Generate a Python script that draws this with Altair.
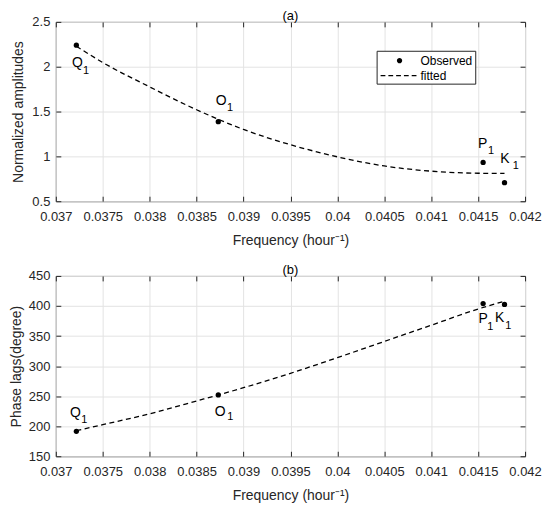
import altair as alt
import pandas as pd

# ---------------- data ----------------
names = ["Q", "O", "P", "K"]
subs = ["1", "1", "1", "1"]
freq_obs = [0.037219, 0.038731, 0.041553, 0.041781]
amp_obs = [2.240, 1.387, 0.933, 0.707]
phase_obs = [191.4, 252.0, 404.0, 402.5]

freq_fit = [0.037219, 0.0375, 0.038, 0.0385, 0.039, 0.0395, 0.040, 0.0405, 0.041, 0.0415, 0.041781]
amp_fit = [2.228, 2.047, 1.775, 1.520, 1.300, 1.130, 0.995, 0.893, 0.835, 0.812, 0.810]
phase_fit = [192.5, 202.5, 220.7, 242.0, 264.0, 288.0, 314.0, 341.0, 368.0, 395.0, 408.0]

x_ticks = [0.037, 0.0375, 0.038, 0.0385, 0.039, 0.0395, 0.04, 0.0405, 0.041, 0.0415, 0.042]
amp_ticks = [0.5, 1.0, 1.5, 2.0, 2.5]
phase_ticks = [150, 200, 250, 300, 350, 400, 450]

series_names = ["Observed", "fitted"]

# label offsets (letter dx, dy, subscript dx, dy) in pixels
amp_label_offsets = {"Q": (1, 17.5, 9.7, 25.5), "O": (3, -20.7, 11.7, -13.7),
                     "P": (-0.5, -18.6, 8, -11.6), "K": (0.5, -24, 11.4, -16.2)}
phase_label_offsets = {"Q": (-1, -18.5, 8, -11), "O": (2, 17.5, 12, 22),
                       "P": (0, 15.3, 7.3, 24), "K": (-5, 14, 3.8, 22)}

FONT = "Liberation Sans"
INK = "#262626"
GRID = "#e3e3e3"
DASH = [5, 3.5]
W = 471

# legend symbol shapes (unit = 8 px, centred on the legend symbol column)
LEG_SIZE = 256
DOT_LEG = "M1.295,0 A0.33,0.33 0 1,0 1.955,0 A0.33,0.33 0 1,0 1.295,0 Z"
_segs = [(-0.75, -0.15), (0.225, 0.825), (1.2, 1.8), (2.175, 2.775), (3.15, 3.75)]
DASH_LEG = " ".join(f"M{a},-0.08 L{b},-0.08 L{b},0.08 L{a},0.08 Z" for a, b in _segs)


def tick_axis(orient, vals):
    return alt.Axis(orient=orient, values=vals, labels=False, title=None, grid=False,
                    domain=False, ticks=True, tickSize=5, offset=-5, minExtent=0, maxExtent=0)


def panel(obs_vals, fit_vals, y_ticks, y_title, title, offsets, with_legend, height, y_title_pad):
    obs = pd.DataFrame({"freq": freq_obs, "val": obs_vals, "name": names, "sub": subs,
                        "series": ["Observed"] * len(names)})
    fit = pd.DataFrame({"freq": freq_fit, "val": fit_vals})
    xs = alt.Scale(domain=[x_ticks[0], x_ticks[-1]], nice=False, zero=False)
    ys = alt.Scale(domain=[y_ticks[0], y_ticks[-1]], nice=False, zero=False)

    line = alt.Chart(fit).mark_line(
        color="black", strokeDash=DASH, strokeWidth=1.3, interpolate="monotone"
    ).encode(
        x=alt.X("freq:Q", scale=xs, axis=alt.Axis(
            orient="bottom", values=x_ticks, format=".6~g", title="Frequency (hour⁻¹)",
            grid=True, ticks=False, domain=False, labelPadding=9, titlePadding=10,
            labelOverlap=False, labelFlush=False)),
        y=alt.Y("val:Q", scale=ys, axis=alt.Axis(
            orient="left", values=y_ticks, format=".6~g", title=y_title,
            grid=True, ticks=False, domain=False, labelPadding=6, titlePadding=y_title_pad,
            labelOverlap=False)),
    )

    pts = alt.Chart(obs).mark_circle(color="black", size=28, opacity=1).encode(
        x=alt.X("freq:Q", scale=xs, axis=tick_axis("top", x_ticks)),
        y=alt.Y("val:Q", scale=ys, axis=tick_axis("right", y_ticks)),
    )

    layers = [line, pts]

    texts = []
    for i, n in enumerate(names):
        ldx, ldy, sdx, sdy = offsets[n]
        base = alt.Chart(obs).transform_filter(alt.datum.name == n)
        if i == 0:
            enc = dict(x=alt.X("freq:Q", scale=xs, axis=tick_axis("bottom", x_ticks)),
                       y=alt.Y("val:Q", scale=ys, axis=tick_axis("left", y_ticks)))
        else:
            enc = dict(x=alt.X("freq:Q", scale=xs, axis=None), y=alt.Y("val:Q", scale=ys, axis=None))
        texts.append(base.mark_text(font=FONT, fontSize=14, color="black", dx=ldx, dy=ldy,
                                    align="center", baseline="middle").encode(text="name:N", **enc))
        enc2 = dict(x=alt.X("freq:Q", scale=xs, axis=None), y=alt.Y("val:Q", scale=ys, axis=None))
        texts.append(base.mark_text(font=FONT, fontSize=11, color="black", dx=sdx, dy=sdy,
                                    align="center", baseline="middle").encode(text="sub:N", **enc2))
    layers += texts

    if with_legend:
        leg = alt.Chart(obs).mark_point(filled=True, fill="black", size=LEG_SIZE, opacity=0).encode(
            x=alt.X("freq:Q", scale=xs, axis=None),
            y=alt.Y("val:Q", scale=ys, axis=None),
            shape=alt.Shape("series:N",
                            scale=alt.Scale(domain=series_names, range=[DOT_LEG, DASH_LEG]),
                            legend=alt.Legend(
                                title=None, orient="none", legendX=322, legendY=29,
                                strokeColor=INK, fillColor="white", padding=2, rowPadding=1,
                                labelFont=FONT, labelFontSize=12, labelColor="black", labelOffset=26,
                                symbolSize=LEG_SIZE, symbolFillColor="black", symbolStrokeWidth=0,
                                symbolOpacity=1)),
        )
        layers.append(leg)

    return alt.layer(*layers).resolve_axis(x="independent", y="independent").properties(
        width=W, height=height,
        title=alt.TitleParams(title, font=FONT, fontSize=13, fontWeight="normal", color="black", offset=-7),
    )


top = panel(amp_obs, amp_fit, amp_ticks, "Normalized amplitudes", "(a)", amp_label_offsets, True, 180, 6)
bottom = panel(phase_obs, phase_fit, phase_ticks, "Phase lags(degree)", "(b)", phase_label_offsets, False, 181, 5)

chart = alt.vconcat(top, bottom, spacing=15).resolve_legend(shape="independent").properties(
    padding={"left": 0, "top": 0, "right": 0, "bottom": 0}
).configure_axis(
    labelFont=FONT, labelFontSize=13, labelColor=INK,
    titleFont=FONT, titleFontSize=14, titleFontWeight="normal", titleColor=INK,
    domainColor=INK, domainWidth=1, tickColor=INK, tickWidth=1,
    gridColor=GRID, gridWidth=1,
).configure_view(stroke=INK, strokeWidth=1)

chart.save("out.html", embed_options={"renderer": "svg", "actions": False})
